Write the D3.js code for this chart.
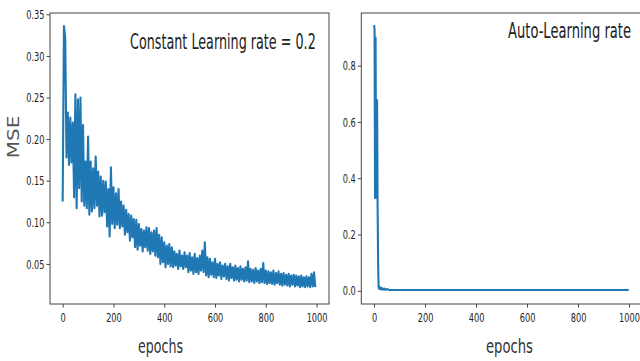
<!DOCTYPE html>
<html>
<head>
<meta charset="utf-8">
<script src="https://cdn.jsdelivr.net/npm/d3@7/dist/d3.min.js"></script>
<style>
  body { margin: 0; background: #fff; }
  svg { display: block; font-family: "DejaVu Sans", sans-serif; }
</style>
</head>
<body>
<div id="chart"></div>
<script>
// MSE per epoch, constant learning rate (read every 5 epochs off the plot)
var constEpochs = d3.range(0, 1000, 5);
var constMSE = [
    0.125, 0.336, 0.322, 0.178, 0.232, 0.169, 0.226, 0.172, 0.22, 0.13,
    0.254, 0.117, 0.248, 0.141, 0.25, 0.125, 0.217, 0.12, 0.173, 0.117,
    0.203, 0.109, 0.173, 0.113, 0.165, 0.117, 0.179, 0.12, 0.161, 0.107,
    0.155, 0.108, 0.15, 0.112, 0.149, 0.095, 0.14, 0.083, 0.166, 0.098,
    0.142, 0.093, 0.135, 0.097, 0.14, 0.093, 0.125, 0.095, 0.12, 0.085,
    0.115, 0.088, 0.11, 0.078, 0.108, 0.082, 0.104, 0.07, 0.103, 0.067,
    0.098, 0.072, 0.092, 0.065, 0.09, 0.07, 0.094, 0.066, 0.093, 0.062,
    0.088, 0.065, 0.09, 0.06, 0.093, 0.058, 0.085, 0.05, 0.082, 0.052,
    0.076, 0.046, 0.072, 0.05, 0.074, 0.047, 0.07, 0.046, 0.065, 0.048,
    0.062, 0.044, 0.066, 0.047, 0.06, 0.044, 0.064, 0.046, 0.06, 0.04,
    0.063, 0.042, 0.058, 0.038, 0.062, 0.04, 0.057, 0.038, 0.06, 0.042,
    0.066, 0.04, 0.076, 0.036, 0.058, 0.034, 0.056, 0.037, 0.052, 0.034,
    0.056, 0.033, 0.05, 0.036, 0.052, 0.032, 0.048, 0.035, 0.05, 0.032,
    0.047, 0.03, 0.05, 0.033, 0.046, 0.03, 0.048, 0.031, 0.045, 0.029,
    0.047, 0.031, 0.044, 0.029, 0.046, 0.03, 0.053, 0.028, 0.044, 0.029,
    0.043, 0.027, 0.045, 0.029, 0.042, 0.027, 0.044, 0.028, 0.051, 0.027,
    0.042, 0.026, 0.041, 0.027, 0.04, 0.026, 0.042, 0.025, 0.039, 0.027,
    0.041, 0.025, 0.038, 0.024, 0.039, 0.025, 0.037, 0.024, 0.038, 0.023,
    0.036, 0.025, 0.037, 0.023, 0.036, 0.024, 0.035, 0.022, 0.036, 0.023,
    0.034, 0.022, 0.035, 0.023, 0.034, 0.022, 0.038, 0.023, 0.04, 0.022
];

// auto learning rate: big spike in the first ~20 epochs, then flat
var autoEpochs = [0, 2, 4, 6, 8, 10, 11, 12, 14, 16, 18, 20, 22, 25, 28, 30, 35, 40, 45, 50, 60,
    100, 200, 300, 400, 500, 600, 700, 800, 900, 999];
var autoMSE = [0.944, 0.93, 0.33, 0.9, 0.4, 0.6, 0.33, 0.677, 0.3, 0.1, 0.01, 0.015, 0.006, 0.012, 0.005, 0.01, 0.004, 0.008, 0.003, 0.006, 0.003,
    0.003, 0.0028, 0.003, 0.0027, 0.0028, 0.0026, 0.0027, 0.0026, 0.0026, 0.0025];

var xTicks = [0, 200, 400, 600, 800, 1000];
var constTicks = [0.05, 0.10, 0.15, 0.20, 0.25, 0.30, 0.35];
var autoTicks = [0.0, 0.2, 0.4, 0.6, 0.8];
var titles = ["Constant Learning rate = 0.2", "Auto-Learning rate"];

var width = 640, height = 361,
    top_ = 13, bottom = 304,
    lineColor = "#1f77b4",
    squeeze = 0.63;   // the picture is squashed sideways, text too

var svg = d3.select("#chart").append("svg")
    .attr("width", width)
    .attr("height", height);
svg.append("rect").attr("width", width).attr("height", height).attr("fill", "#fff");

// squeeze a text sideways so it is `len` px wide, starting/centred at x
function squash(sel, x, y, len) {
    var w = sel.node().getComputedTextLength();
    sel.attr("transform", "translate(" + x + "," + y + ") scale(" + (len / w) + ",1)");
}

var panels = [
    { x0: 50, x1: 329, xs: constEpochs, ys: constMSE, yDomain: [0.0018, 0.3516], ticks: constTicks, fmt: ".2f",
      title: titles[0], tx: 130, ty: 48.5, tlen: 186, lx: 160.5, llen: 45 },
    { x0: 361.3, x1: 641.5, xs: autoEpochs, ys: autoMSE, yDomain: [-0.047, 0.987], ticks: autoTicks, fmt: ".1f",
      title: titles[1], tx: 508, ty: 38, tlen: 123, lx: 509.5, llen: 47 }
];

panels.forEach(function (p) {
    var x = d3.scaleLinear().domain([-49.95, 1048.95]).range([p.x0, p.x1]);
    var y = d3.scaleLinear().domain(p.yDomain).range([bottom, top_]);

    var g = svg.append("g");

    var line = d3.line()
        .x(function (d, i) { return x(p.xs[i]); })
        .y(function (d) { return y(d); });

    g.append("path")
        .datum(p.ys)
        .attr("d", line)
        .attr("fill", "none")
        .attr("stroke", lineColor)
        .attr("stroke-width", 2.1)
        .attr("stroke-linejoin", "round");

    // spines
    g.append("rect")
        .attr("x", p.x0).attr("y", top_)
        .attr("width", p.x1 - p.x0).attr("height", bottom - top_)
        .attr("fill", "none")
        .attr("stroke", "#444")
        .attr("stroke-width", 1);

    var xAxis = g.append("g")
        .attr("transform", "translate(0," + bottom + ")")
        .call(d3.axisBottom(x).tickValues(xTicks).tickFormat(d3.format("d"))
            .tickSize(3.5).tickSizeOuter(0).tickPadding(5));

    var yAxis = g.append("g")
        .attr("transform", "translate(" + p.x0 + ",0)")
        .call(d3.axisLeft(y).tickValues(p.ticks).tickFormat(d3.format(p.fmt))
            .tickSize(3.5).tickSizeOuter(0).tickPadding(2));

    [xAxis, yAxis].forEach(function (a) {
        a.select(".domain").remove();
        a.selectAll("line").attr("stroke", "#444");
        a.selectAll("text")
            .attr("fill", "#222")
            .style("font-size", "13px")
            .style("font-family", "DejaVu Sans");
    });
    // squash tick labels sideways, keep anchor where it was
    xAxis.selectAll("text").attr("transform", "scale(" + squeeze + ",1)");
    yAxis.selectAll("text")
        .attr("x", -5.5 / squeeze)
        .attr("transform", "scale(" + squeeze + ",1)");

    var title = g.append("text")
        .attr("fill", "#222")
        .style("font-size", "21px")
        .text(p.title);
    squash(title, p.tx, p.ty, p.tlen);

    var xlab = g.append("text")
        .attr("text-anchor", "middle")
        .attr("fill", "#333")
        .style("font-size", "20px")
        .text("epochs");
    squash(xlab, p.lx, 353, p.llen);
});

svg.append("text")
    .attr("transform", "translate(18.5,137) scale(0.78,1) rotate(-90)")
    .attr("text-anchor", "middle")
    .attr("fill", "#555")
    .style("font-size", "20px")
    .text("MSE");
</script>
</body>
</html>
